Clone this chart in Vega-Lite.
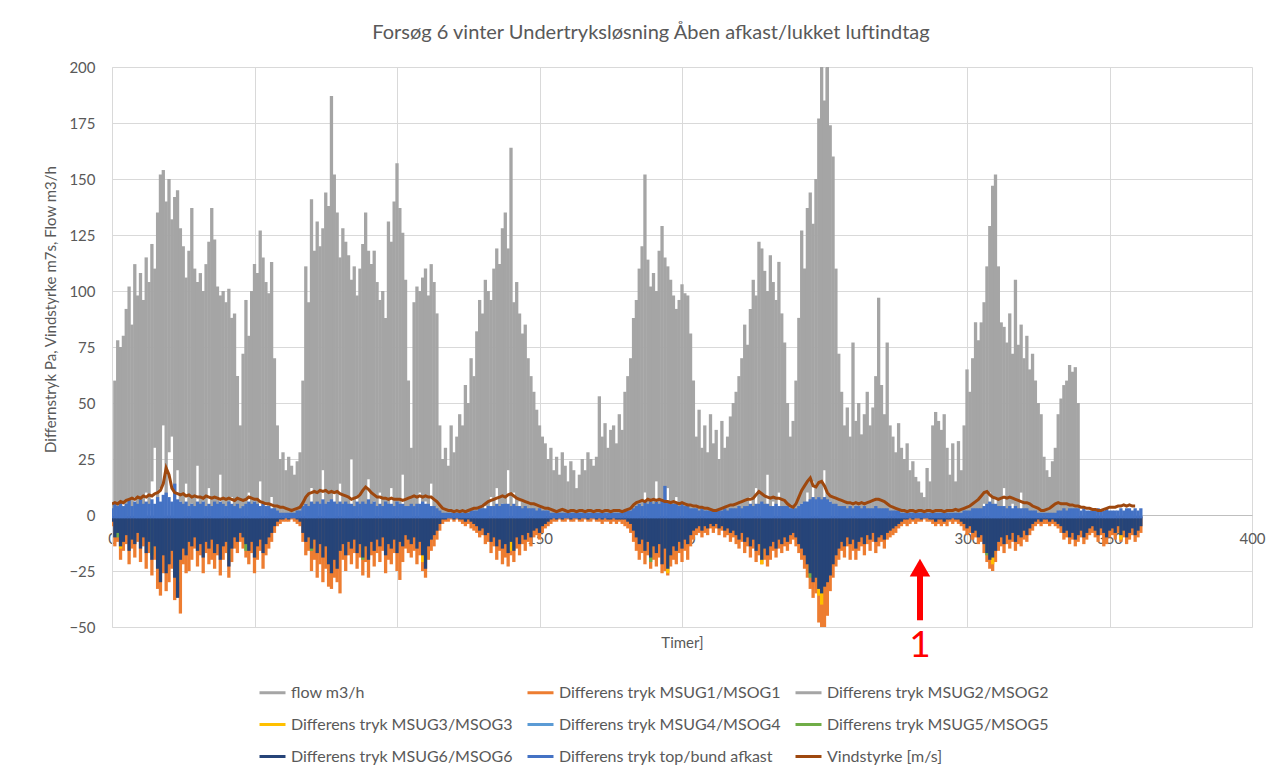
{
"$schema": "https://vega.github.io/schema/vega-lite/v6.json",
"width": 1140, "height": 560,
"autosize": {"type": "none"},
"padding": {"left": 112, "top": 67, "right": 24, "bottom": 151},
"background": "white",
"title": {"text": "Forsøg 6 vinter Undertryksløsning Åben afkast/lukket luftindtag", "font": "Lato", "fontSize": 20, "fontWeight": "normal", "color": "#595959", "anchor": "middle", "frame": "group", "dx": -31, "offset": 17},
"config": {"view": {"stroke": null}, "font": "Lato"},
"data": {"values": [
{"t":0,"lo":0,"hi":5,"o":-5,"n":-3,"b":3,"w":5},
{"t":1,"lo":0,"hi":60,"o":-14,"n":-10,"b":5,"w":5.5},
{"t":2,"lo":2,"hi":78,"o":-12,"n":-8,"b":4,"w":5,"g":-10},
{"t":3,"lo":0,"hi":75,"o":-20,"n":-14,"b":6,"w":6,"yl":-15},
{"t":4,"lo":5,"hi":80,"o":-16,"n":-12,"b":4,"w":5.5},
{"t":5,"lo":0,"hi":92,"o":-13,"n":-9,"b":5,"w":6.5},
{"t":6,"lo":3,"hi":102,"o":-22,"n":-16,"b":7,"w":7},
{"t":7,"lo":0,"hi":85,"o":-15,"n":-11,"b":4,"w":7.5},
{"t":8,"lo":8,"hi":112,"o":-19,"n":-13,"b":6,"w":7},
{"t":9,"lo":0,"hi":98,"o":-12,"n":-8,"b":5,"w":8},
{"t":10,"lo":4,"hi":108,"o":-21,"n":-15,"b":7,"w":7.5},
{"t":11,"lo":0,"hi":96,"o":-14,"n":-10,"b":5,"w":8.5},
{"t":12,"lo":10,"hi":115,"o":-24,"n":-17,"b":6,"w":8},
{"t":13,"lo":2,"hi":104,"o":-17,"n":-12,"b":5,"w":9},
{"t":14,"lo":15,"hi":121,"o":-27,"n":-20,"b":7,"w":8.5,"g":-18},
{"t":15,"lo":30,"hi":110,"o":-20,"n":-14,"b":5,"w":9.5},
{"t":16,"lo":5,"hi":135,"o":-33,"n":-24,"b":8,"w":10},
{"t":17,"lo":12,"hi":152,"o":-36,"n":-30,"b":6,"w":11},
{"t":18,"lo":40,"hi":154,"o":-26,"n":-18,"b":9,"w":14},
{"t":19,"lo":8,"hi":140,"o":-34,"n":-26,"b":10,"w":21},
{"t":20,"lo":28,"hi":150,"o":-30,"n":-22,"b":8,"w":18},
{"t":21,"lo":35,"hi":132,"o":-24,"n":-16,"b":6,"w":12},
{"t":22,"lo":10,"hi":142,"o":-38,"n":-28,"b":14,"w":10},
{"t":23,"lo":20,"hi":145,"o":-34,"n":-37,"b":7,"w":9.5,"yl":-30},
{"t":24,"lo":6,"hi":128,"o":-44,"n":-20,"b":6,"w":9},
{"t":25,"lo":0,"hi":120,"o":-22,"n":-15,"b":5,"w":9.5},
{"t":26,"lo":14,"hi":106,"o":-26,"n":-18,"b":6,"w":8.5},
{"t":27,"lo":0,"hi":118,"o":-25,"n":-12,"b":4,"w":9},
{"t":28,"lo":5,"hi":137,"o":-20,"n":-14,"b":5,"w":8},
{"t":29,"lo":0,"hi":110,"o":-15,"n":-10,"b":4,"w":8.5},
{"t":30,"lo":22,"hi":104,"o":-23,"n":-16,"b":6,"w":8},
{"t":31,"lo":0,"hi":108,"o":-18,"n":-13,"b":5,"w":8},
{"t":32,"lo":6,"hi":100,"o":-26,"n":-19,"b":6,"w":7.5},
{"t":33,"lo":0,"hi":112,"o":-17,"n":-12,"b":4,"w":8.5},
{"t":34,"lo":12,"hi":122,"o":-22,"n":-15,"b":5,"w":8},
{"t":35,"lo":0,"hi":137,"o":-20,"n":-11,"b":4,"w":7.5},
{"t":36,"lo":4,"hi":123,"o":-24,"n":-17,"b":6,"w":8},
{"t":37,"lo":0,"hi":102,"o":-18,"n":-13,"b":5,"w":7.5},
{"t":38,"lo":18,"hi":98,"o":-27,"n":-20,"b":6,"w":7},
{"t":39,"lo":0,"hi":100,"o":-20,"n":-14,"b":5,"w":7.5},
{"t":40,"lo":3,"hi":95,"o":-17,"n":-12,"b":4,"w":7},
{"t":41,"lo":0,"hi":101,"o":-28,"n":-23,"b":6,"w":7.5,"yl":-20},
{"t":42,"lo":8,"hi":88,"o":-21,"n":-15,"b":5,"w":7},
{"t":43,"lo":0,"hi":90,"o":-15,"n":-10,"b":4,"w":6.5},
{"t":44,"lo":0,"hi":62,"o":-17,"n":-12,"b":5,"w":7.5},
{"t":45,"lo":0,"hi":40,"o":-12,"n":-8,"b":3,"w":7},
{"t":46,"lo":4,"hi":72,"o":-15,"n":-10,"b":4,"w":6.5},
{"t":47,"lo":0,"hi":96,"o":-19,"n":-13,"b":5,"w":7,"g":-16},
{"t":48,"lo":10,"hi":80,"o":-22,"n":-16,"b":6,"w":8},
{"t":49,"lo":0,"hi":100,"o":-17,"n":-12,"b":5,"w":7.5},
{"t":50,"lo":6,"hi":112,"o":-26,"n":-19,"b":6,"w":7},
{"t":51,"lo":0,"hi":108,"o":-20,"n":-14,"b":5,"w":7},
{"t":52,"lo":15,"hi":127,"o":-16,"n":-11,"b":4,"w":6},
{"t":53,"lo":0,"hi":115,"o":-24,"n":-17,"b":5,"w":5.5},
{"t":54,"lo":5,"hi":104,"o":-18,"n":-13,"b":4,"w":5},
{"t":55,"lo":0,"hi":99,"o":-15,"n":-10,"b":4,"w":5},
{"t":56,"lo":8,"hi":113,"o":-12,"n":-8,"b":3,"w":4.5},
{"t":57,"lo":0,"hi":70,"o":-8,"n":-5,"b":3,"w":4},
{"t":58,"lo":0,"hi":40,"o":-5,"n":-3,"b":2,"w":4},
{"t":59,"lo":0,"hi":25,"o":-4,"n":-2,"b":1,"w":3.5},
{"t":60,"lo":0,"hi":28,"o":-3,"n":-2,"b":1,"w":3.5},
{"t":61,"lo":0,"hi":20,"o":-3,"n":-1,"b":1,"w":3},
{"t":62,"lo":0,"hi":26,"o":-3,"n":-2,"b":1,"w":2.5},
{"t":63,"lo":0,"hi":22,"o":-2,"n":-1,"b":1,"w":2},
{"t":64,"lo":0,"hi":18,"o":-3,"n":-1,"b":1,"w":2.5},
{"t":65,"lo":0,"hi":24,"o":-4,"n":-2,"b":2,"w":3},
{"t":66,"lo":0,"hi":28,"o":-5,"n":-3,"b":2,"w":3.5},
{"t":67,"lo":0,"hi":60,"o":-12,"n":-8,"b":4,"w":5.5},
{"t":68,"lo":5,"hi":111,"o":-18,"n":-12,"b":5,"w":8},
{"t":69,"lo":0,"hi":95,"o":-16,"n":-10,"b":4,"w":9.5},
{"t":70,"lo":12,"hi":141,"o":-25,"n":-15,"b":6,"w":10,"g":-16},
{"t":71,"lo":0,"hi":118,"o":-20,"n":-11,"b":5,"w":10.5},
{"t":72,"lo":4,"hi":131,"o":-28,"n":-17,"b":6,"w":10},
{"t":73,"lo":0,"hi":120,"o":-22,"n":-13,"b":5,"w":11},
{"t":74,"lo":20,"hi":128,"o":-30,"n":-19,"b":7,"w":10.5},
{"t":75,"lo":0,"hi":144,"o":-24,"n":-14,"b":5,"w":11},
{"t":76,"lo":6,"hi":138,"o":-32,"n":-22,"b":6,"w":10},
{"t":77,"lo":0,"hi":187,"o":-33,"n":-26,"b":7,"w":10.5},
{"t":78,"lo":10,"hi":152,"o":-28,"n":-20,"b":6,"w":10},
{"t":79,"lo":0,"hi":135,"o":-30,"n":-24,"b":5,"w":10.5},
{"t":80,"lo":14,"hi":115,"o":-35,"n":-16,"b":6,"w":9.5},
{"t":81,"lo":0,"hi":128,"o":-20,"n":-13,"b":5,"w":9},
{"t":82,"lo":5,"hi":122,"o":-25,"n":-18,"b":6,"w":8.5},
{"t":83,"lo":0,"hi":116,"o":-18,"n":-12,"b":5,"w":8},
{"t":84,"lo":25,"hi":105,"o":-22,"n":-15,"b":5,"w":7},
{"t":85,"lo":0,"hi":111,"o":-17,"n":-11,"b":4,"w":7.5},
{"t":86,"lo":8,"hi":98,"o":-24,"n":-17,"b":6,"w":8},
{"t":87,"lo":0,"hi":110,"o":-19,"n":-13,"b":5,"w":9},
{"t":88,"lo":3,"hi":121,"o":-27,"n":-19,"b":6,"w":11,"g":-20},
{"t":89,"lo":0,"hi":135,"o":-21,"n":-14,"b":5,"w":12.5},
{"t":90,"lo":16,"hi":118,"o":-28,"n":-20,"b":7,"w":11.5},
{"t":91,"lo":0,"hi":112,"o":-18,"n":-12,"b":5,"w":10},
{"t":92,"lo":6,"hi":118,"o":-23,"n":-16,"b":6,"w":9},
{"t":93,"lo":0,"hi":104,"o":-17,"n":-11,"b":4,"w":8},
{"t":94,"lo":10,"hi":96,"o":-21,"n":-14,"b":5,"w":8},
{"t":95,"lo":0,"hi":100,"o":-16,"n":-10,"b":4,"w":7.5},
{"t":96,"lo":4,"hi":88,"o":-26,"n":-18,"b":6,"w":7.5},
{"t":97,"lo":0,"hi":131,"o":-20,"n":-13,"b":5,"w":7},
{"t":98,"lo":12,"hi":122,"o":-22,"n":-15,"b":5,"w":7.5},
{"t":99,"lo":0,"hi":140,"o":-17,"n":-11,"b":4,"w":7},
{"t":100,"lo":5,"hi":157,"o":-25,"n":-17,"b":6,"w":7},
{"t":101,"lo":0,"hi":137,"o":-29,"n":-12,"b":5,"w":7},
{"t":102,"lo":18,"hi":126,"o":-21,"n":-14,"b":5,"w":6.5},
{"t":103,"lo":0,"hi":105,"o":-15,"n":-9,"b":4,"w":7},
{"t":104,"lo":0,"hi":60,"o":-17,"n":-11,"b":4,"w":7.5},
{"t":105,"lo":0,"hi":30,"o":-19,"n":-13,"b":5,"w":8},
{"t":106,"lo":4,"hi":95,"o":-16,"n":-10,"b":4,"w":8.5},
{"t":107,"lo":0,"hi":102,"o":-22,"n":-15,"b":5,"w":8},
{"t":108,"lo":10,"hi":100,"o":-18,"n":-12,"b":5,"w":8.5},
{"t":109,"lo":0,"hi":106,"o":-25,"n":-18,"b":6,"w":8,"yl":-21},
{"t":110,"lo":6,"hi":110,"o":-28,"n":-24,"b":5,"w":8.5},
{"t":111,"lo":0,"hi":98,"o":-20,"n":-14,"b":5,"w":8},
{"t":112,"lo":14,"hi":112,"o":-16,"n":-11,"b":4,"w":8},
{"t":113,"lo":0,"hi":104,"o":-14,"n":-9,"b":4,"w":7},
{"t":114,"lo":0,"hi":90,"o":-11,"n":-7,"b":3,"w":6},
{"t":115,"lo":0,"hi":40,"o":-7,"n":-4,"b":2,"w":4.5},
{"t":116,"lo":0,"hi":25,"o":-4,"n":-2,"b":1,"w":3},
{"t":117,"lo":0,"hi":30,"o":-3,"n":-2,"b":1,"w":2.5},
{"t":118,"lo":0,"hi":22,"o":-3,"n":-1,"b":1,"w":2},
{"t":119,"lo":0,"hi":40,"o":-2,"n":-1,"b":1,"w":2},
{"t":120,"lo":0,"hi":28,"o":-3,"n":-2,"b":1,"w":1.5},
{"t":121,"lo":0,"hi":35,"o":-2,"n":-1,"b":1,"w":2},
{"t":122,"lo":0,"hi":45,"o":-3,"n":-2,"b":1,"w":1.5},
{"t":123,"lo":0,"hi":40,"o":-4,"n":-2,"b":1,"w":2},
{"t":124,"lo":0,"hi":58,"o":-5,"n":-3,"b":2,"w":1.5},
{"t":125,"lo":0,"hi":50,"o":-4,"n":-2,"b":1,"w":2},
{"t":126,"lo":0,"hi":70,"o":-6,"n":-3,"b":2,"w":2.5},
{"t":127,"lo":0,"hi":62,"o":-7,"n":-4,"b":2,"w":3},
{"t":128,"lo":0,"hi":82,"o":-8,"n":-5,"b":2,"w":3},
{"t":129,"lo":0,"hi":96,"o":-10,"n":-7,"b":3,"w":3.5},
{"t":130,"lo":0,"hi":90,"o":-9,"n":-6,"b":3,"w":4},
{"t":131,"lo":4,"hi":105,"o":-13,"n":-9,"b":3,"w":5},
{"t":132,"lo":0,"hi":100,"o":-12,"n":-8,"b":4,"w":6},
{"t":133,"lo":8,"hi":96,"o":-17,"n":-12,"b":4,"w":6.5},
{"t":134,"lo":0,"hi":110,"o":-14,"n":-10,"b":4,"w":7},
{"t":135,"lo":12,"hi":119,"o":-20,"n":-14,"b":5,"w":7.5},
{"t":136,"lo":0,"hi":112,"o":-16,"n":-11,"b":4,"w":8},
{"t":137,"lo":5,"hi":128,"o":-22,"n":-15,"b":5,"w":8.5},
{"t":138,"lo":0,"hi":135,"o":-19,"n":-13,"b":5,"w":8},
{"t":139,"lo":20,"hi":119,"o":-23,"n":-17,"b":5,"w":9},
{"t":140,"lo":0,"hi":164,"o":-18,"n":-12,"b":4,"w":9.5,"yl":-16},
{"t":141,"lo":10,"hi":95,"o":-21,"n":-16,"b":5,"w":8.5},
{"t":142,"lo":0,"hi":104,"o":-15,"n":-10,"b":4,"w":7.5},
{"t":143,"lo":6,"hi":90,"o":-18,"n":-13,"b":4,"w":7},
{"t":144,"lo":0,"hi":81,"o":-13,"n":-9,"b":3,"w":6.5},
{"t":145,"lo":0,"hi":85,"o":-16,"n":-11,"b":4,"w":6},
{"t":146,"lo":0,"hi":70,"o":-12,"n":-8,"b":3,"w":5.5},
{"t":147,"lo":0,"hi":62,"o":-14,"n":-10,"b":3,"w":5},
{"t":148,"lo":0,"hi":55,"o":-10,"n":-7,"b":3,"w":5},
{"t":149,"lo":0,"hi":47,"o":-9,"n":-6,"b":2,"w":4.5},
{"t":150,"lo":0,"hi":40,"o":-11,"n":-8,"b":3,"w":4},
{"t":151,"lo":0,"hi":35,"o":-8,"n":-5,"b":2,"w":3.5},
{"t":152,"lo":0,"hi":32,"o":-6,"n":-4,"b":2,"w":3},
{"t":153,"lo":0,"hi":25,"o":-5,"n":-3,"b":2,"w":3},
{"t":154,"lo":0,"hi":30,"o":-4,"n":-2,"b":1,"w":2.5},
{"t":155,"lo":0,"hi":20,"o":-3,"n":-1,"b":1,"w":2},
{"t":156,"lo":0,"hi":26,"o":-3,"n":-2,"b":1,"w":1.5},
{"t":157,"lo":0,"hi":18,"o":-2,"n":-1,"b":1,"w":2},
{"t":158,"lo":0,"hi":28,"o":-3,"n":-2,"b":1,"w":2.5},
{"t":159,"lo":0,"hi":22,"o":-3,"n":-1,"b":1,"w":2},
{"t":160,"lo":0,"hi":15,"o":-2,"n":-1,"b":1,"w":1.5},
{"t":161,"lo":0,"hi":24,"o":-3,"n":-2,"b":1,"w":2},
{"t":162,"lo":0,"hi":20,"o":-3,"n":-1,"b":1,"w":2},
{"t":163,"lo":0,"hi":12,"o":-2,"n":-1,"b":1,"w":1.5},
{"t":164,"lo":0,"hi":18,"o":-3,"n":-2,"b":1,"w":2},
{"t":165,"lo":0,"hi":25,"o":-3,"n":-1,"b":1,"w":2},
{"t":166,"lo":0,"hi":20,"o":-2,"n":-1,"b":1,"w":1.5},
{"t":167,"lo":0,"hi":28,"o":-3,"n":-2,"b":1,"w":2},
{"t":168,"lo":0,"hi":25,"o":-3,"n":-1,"b":1,"w":2},
{"t":169,"lo":0,"hi":22,"o":-2,"n":-1,"b":1,"w":1.5},
{"t":170,"lo":0,"hi":26,"o":-3,"n":-2,"b":1,"w":2},
{"t":171,"lo":0,"hi":53,"o":-3,"n":-1,"b":1,"w":2},
{"t":172,"lo":0,"hi":35,"o":-4,"n":-2,"b":1,"w":1.5},
{"t":173,"lo":0,"hi":41,"o":-3,"n":-1,"b":1,"w":2},
{"t":174,"lo":0,"hi":30,"o":-3,"n":-2,"b":1,"w":2},
{"t":175,"lo":0,"hi":38,"o":-4,"n":-2,"b":1,"w":1.5},
{"t":176,"lo":0,"hi":40,"o":-3,"n":-1,"b":1,"w":2},
{"t":177,"lo":0,"hi":32,"o":-4,"n":-2,"b":1,"w":2},
{"t":178,"lo":0,"hi":45,"o":-3,"n":-2,"b":1,"w":2},
{"t":179,"lo":0,"hi":38,"o":-4,"n":-2,"b":1,"w":1.5},
{"t":180,"lo":0,"hi":55,"o":-5,"n":-2,"b":2,"w":2},
{"t":181,"lo":0,"hi":62,"o":-6,"n":-3,"b":2,"w":2.5},
{"t":182,"lo":0,"hi":70,"o":-8,"n":-4,"b":2,"w":3},
{"t":183,"lo":0,"hi":88,"o":-12,"n":-7,"b":3,"w":4.5},
{"t":184,"lo":0,"hi":96,"o":-16,"n":-10,"b":4,"w":5.5},
{"t":185,"lo":5,"hi":110,"o":-20,"n":-13,"b":5,"w":6},
{"t":186,"lo":0,"hi":120,"o":-17,"n":-11,"b":4,"w":6.5},
{"t":187,"lo":10,"hi":152,"o":-22,"n":-16,"b":6,"w":6},
{"t":188,"lo":0,"hi":114,"o":-18,"n":-12,"b":5,"w":7},
{"t":189,"lo":4,"hi":102,"o":-24,"n":-19,"b":6,"w":6.5,"g":-21},
{"t":190,"lo":0,"hi":108,"o":-20,"n":-14,"b":5,"w":7},
{"t":191,"lo":15,"hi":100,"o":-23,"n":-17,"b":6,"w":6.5},
{"t":192,"lo":0,"hi":118,"o":-19,"n":-13,"b":5,"w":7},
{"t":193,"lo":6,"hi":129,"o":-26,"n":-22,"b":7,"w":6.5},
{"t":194,"lo":0,"hi":115,"o":-25,"n":-15,"b":13,"w":6},
{"t":195,"lo":12,"hi":111,"o":-27,"n":-24,"b":6,"w":6,"yl":-26},
{"t":196,"lo":0,"hi":105,"o":-23,"n":-18,"b":5,"w":5.5},
{"t":197,"lo":0,"hi":98,"o":-20,"n":-14,"b":5,"w":6},
{"t":198,"lo":8,"hi":92,"o":-22,"n":-16,"b":5,"w":5.5},
{"t":199,"lo":0,"hi":96,"o":-17,"n":-12,"b":4,"w":5},
{"t":200,"lo":3,"hi":103,"o":-21,"n":-15,"b":5,"w":5.5},
{"t":201,"lo":0,"hi":99,"o":-16,"n":-11,"b":4,"w":5},
{"t":202,"lo":0,"hi":98,"o":-20,"n":-13,"b":4,"w":4.5},
{"t":203,"lo":0,"hi":81,"o":-14,"n":-9,"b":3,"w":4.5},
{"t":204,"lo":0,"hi":60,"o":-11,"n":-7,"b":3,"w":4},
{"t":205,"lo":0,"hi":35,"o":-9,"n":-6,"b":3,"w":4},
{"t":206,"lo":0,"hi":47,"o":-8,"n":-5,"b":2,"w":3.5},
{"t":207,"lo":0,"hi":30,"o":-10,"n":-7,"b":3,"w":3.5},
{"t":208,"lo":0,"hi":40,"o":-8,"n":-5,"b":2,"w":3},
{"t":209,"lo":0,"hi":28,"o":-9,"n":-6,"b":2,"w":3},
{"t":210,"lo":0,"hi":45,"o":-6,"n":-4,"b":2,"w":2.5},
{"t":211,"lo":0,"hi":32,"o":-8,"n":-5,"b":2,"w":2},
{"t":212,"lo":0,"hi":38,"o":-6,"n":-4,"b":2,"w":2},
{"t":213,"lo":0,"hi":25,"o":-9,"n":-6,"b":2,"w":2.5},
{"t":214,"lo":0,"hi":42,"o":-7,"n":-5,"b":2,"w":3},
{"t":215,"lo":0,"hi":30,"o":-10,"n":-7,"b":3,"w":3.5},
{"t":216,"lo":0,"hi":35,"o":-9,"n":-6,"b":2,"w":4},
{"t":217,"lo":0,"hi":44,"o":-12,"n":-8,"b":3,"w":4.5},
{"t":218,"lo":0,"hi":50,"o":-10,"n":-7,"b":3,"w":4.5},
{"t":219,"lo":0,"hi":55,"o":-13,"n":-9,"b":3,"w":5},
{"t":220,"lo":0,"hi":62,"o":-15,"n":-11,"b":4,"w":5.5},
{"t":221,"lo":0,"hi":70,"o":-12,"n":-8,"b":3,"w":6},
{"t":222,"lo":4,"hi":85,"o":-17,"n":-12,"b":4,"w":6.5},
{"t":223,"lo":0,"hi":76,"o":-14,"n":-10,"b":4,"w":7},
{"t":224,"lo":8,"hi":92,"o":-19,"n":-14,"b":5,"w":7},
{"t":225,"lo":0,"hi":105,"o":-15,"n":-11,"b":4,"w":7.5},
{"t":226,"lo":12,"hi":98,"o":-21,"n":-16,"b":5,"w":9},
{"t":227,"lo":0,"hi":122,"o":-18,"n":-13,"b":5,"w":10.5},
{"t":228,"lo":5,"hi":119,"o":-22,"n":-20,"b":6,"w":9.5,"yl":-22},
{"t":229,"lo":0,"hi":109,"o":-20,"n":-15,"b":5,"w":8.5},
{"t":230,"lo":18,"hi":100,"o":-23,"n":-18,"b":5,"w":8},
{"t":231,"lo":0,"hi":116,"o":-20,"n":-14,"b":4,"w":7.5},
{"t":232,"lo":6,"hi":104,"o":-16,"n":-12,"b":4,"w":8},
{"t":233,"lo":0,"hi":96,"o":-19,"n":-15,"b":5,"w":7.5},
{"t":234,"lo":10,"hi":113,"o":-15,"n":-11,"b":4,"w":7.5},
{"t":235,"lo":0,"hi":90,"o":-17,"n":-13,"b":4,"w":7},
{"t":236,"lo":0,"hi":77,"o":-14,"n":-10,"b":4,"w":6.5},
{"t":237,"lo":0,"hi":50,"o":-16,"n":-12,"b":4,"w":5},
{"t":238,"lo":0,"hi":35,"o":-13,"n":-9,"b":3,"w":4},
{"t":239,"lo":0,"hi":42,"o":-11,"n":-8,"b":3,"w":3.5},
{"t":240,"lo":0,"hi":60,"o":-14,"n":-10,"b":3,"w":5},
{"t":241,"lo":0,"hi":88,"o":-17,"n":-13,"b":4,"w":8},
{"t":242,"lo":5,"hi":127,"o":-20,"n":-15,"b":5,"w":11},
{"t":243,"lo":0,"hi":110,"o":-24,"n":-18,"b":6,"w":13},
{"t":244,"lo":10,"hi":137,"o":-28,"n":-22,"b":6,"w":15},
{"t":245,"lo":0,"hi":144,"o":-33,"n":-26,"b":7,"w":16.5,"g":-28},
{"t":246,"lo":15,"hi":130,"o":-37,"n":-30,"b":8,"w":13},
{"t":247,"lo":0,"hi":150,"o":-35,"n":-28,"b":7,"w":12.5},
{"t":248,"lo":8,"hi":177,"o":-48,"n":-33,"b":8,"w":14.5,"yl":-36},
{"t":249,"lo":0,"hi":215,"o":-55,"n":-35,"b":7,"w":15,"yl":-40},
{"t":250,"lo":20,"hi":185,"o":-52,"n":-32,"b":8,"w":13},
{"t":251,"lo":0,"hi":230,"o":-45,"n":-30,"b":7,"w":10},
{"t":252,"lo":6,"hi":174,"o":-34,"n":-27,"b":6,"w":8.5},
{"t":253,"lo":0,"hi":160,"o":-28,"n":-22,"b":5,"w":8},
{"t":254,"lo":0,"hi":110,"o":-23,"n":-18,"b":5,"w":7.5},
{"t":255,"lo":0,"hi":72,"o":-20,"n":-15,"b":4,"w":7},
{"t":256,"lo":0,"hi":55,"o":-16,"n":-12,"b":4,"w":6.5},
{"t":257,"lo":0,"hi":40,"o":-19,"n":-14,"b":4,"w":6},
{"t":258,"lo":0,"hi":48,"o":-14,"n":-10,"b":3,"w":5.5},
{"t":259,"lo":0,"hi":35,"o":-20,"n":-13,"b":4,"w":5.5},
{"t":260,"lo":0,"hi":77,"o":-16,"n":-11,"b":3,"w":5},
{"t":261,"lo":0,"hi":42,"o":-20,"n":-15,"b":4,"w":5.5},
{"t":262,"lo":0,"hi":50,"o":-16,"n":-12,"b":4,"w":5},
{"t":263,"lo":0,"hi":36,"o":-14,"n":-10,"b":3,"w":5.5},
{"t":264,"lo":0,"hi":45,"o":-18,"n":-13,"b":4,"w":5},
{"t":265,"lo":0,"hi":55,"o":-13,"n":-9,"b":3,"w":5.5},
{"t":266,"lo":0,"hi":40,"o":-16,"n":-11,"b":3,"w":6},
{"t":267,"lo":0,"hi":48,"o":-12,"n":-8,"b":3,"w":6.5},
{"t":268,"lo":0,"hi":62,"o":-17,"n":-12,"b":4,"w":7},
{"t":269,"lo":0,"hi":97,"o":-14,"n":-10,"b":3,"w":7},
{"t":270,"lo":0,"hi":58,"o":-12,"n":-9,"b":3,"w":6.5},
{"t":271,"lo":0,"hi":45,"o":-15,"n":-11,"b":3,"w":6},
{"t":272,"lo":0,"hi":77,"o":-11,"n":-8,"b":3,"w":5},
{"t":273,"lo":0,"hi":40,"o":-10,"n":-7,"b":2,"w":4},
{"t":274,"lo":0,"hi":35,"o":-9,"n":-6,"b":2,"w":3.5},
{"t":275,"lo":0,"hi":28,"o":-8,"n":-5,"b":2,"w":3},
{"t":276,"lo":0,"hi":41,"o":-6,"n":-4,"b":2,"w":2.5},
{"t":277,"lo":0,"hi":30,"o":-5,"n":-3,"b":1,"w":2},
{"t":278,"lo":0,"hi":25,"o":-4,"n":-2,"b":1,"w":2},
{"t":279,"lo":0,"hi":32,"o":-5,"n":-2,"b":1,"w":1.5},
{"t":280,"lo":0,"hi":20,"o":-4,"n":-1,"b":1,"w":2},
{"t":281,"lo":0,"hi":24,"o":-3,"n":-2,"b":1,"w":2},
{"t":282,"lo":0,"hi":17,"o":-4,"n":-1,"b":1,"w":1.5},
{"t":283,"lo":0,"hi":15,"o":-3,"n":-1,"b":1,"w":2},
{"t":284,"lo":0,"hi":10,"o":-3,"n":-2,"b":1,"w":2},
{"t":285,"lo":0,"hi":8,"o":-2,"n":-1,"b":1,"w":1.5},
{"t":286,"lo":0,"hi":21,"o":-3,"n":-1,"b":1,"w":2},
{"t":287,"lo":0,"hi":15,"o":-3,"n":-2,"b":1,"w":2},
{"t":288,"lo":0,"hi":40,"o":-4,"n":-2,"b":1,"w":1.5},
{"t":289,"lo":0,"hi":46,"o":-5,"n":-3,"b":1,"w":2},
{"t":290,"lo":0,"hi":42,"o":-4,"n":-2,"b":1,"w":2},
{"t":291,"lo":0,"hi":38,"o":-5,"n":-2,"b":1,"w":2},
{"t":292,"lo":0,"hi":45,"o":-4,"n":-3,"b":1,"w":1.5},
{"t":293,"lo":0,"hi":30,"o":-5,"n":-2,"b":1,"w":2},
{"t":294,"lo":0,"hi":18,"o":-3,"n":-2,"b":1,"w":2},
{"t":295,"lo":0,"hi":32,"o":-4,"n":-1,"b":1,"w":2},
{"t":296,"lo":0,"hi":15,"o":-3,"n":-2,"b":1,"w":2.5},
{"t":297,"lo":0,"hi":33,"o":-4,"n":-2,"b":1,"w":2},
{"t":298,"lo":0,"hi":20,"o":-5,"n":-3,"b":1,"w":2.5},
{"t":299,"lo":0,"hi":40,"o":-7,"n":-4,"b":2,"w":3},
{"t":300,"lo":0,"hi":65,"o":-9,"n":-6,"b":2,"w":3.5},
{"t":301,"lo":0,"hi":55,"o":-8,"n":-5,"b":2,"w":4},
{"t":302,"lo":0,"hi":70,"o":-11,"n":-8,"b":3,"w":5},
{"t":303,"lo":0,"hi":86,"o":-10,"n":-7,"b":3,"w":6},
{"t":304,"lo":0,"hi":78,"o":-13,"n":-10,"b":3,"w":7},
{"t":305,"lo":0,"hi":86,"o":-12,"n":-9,"b":3,"w":8.5},
{"t":306,"lo":5,"hi":95,"o":-17,"n":-13,"b":4,"w":10},
{"t":307,"lo":0,"hi":111,"o":-21,"n":-17,"b":5,"w":10.5,"g":-18},
{"t":308,"lo":10,"hi":129,"o":-24,"n":-20,"b":6,"w":9},
{"t":309,"lo":0,"hi":147,"o":-25,"n":-19,"b":5,"w":8,"yl":-22},
{"t":310,"lo":8,"hi":152,"o":-21,"n":-16,"b":5,"w":7.5},
{"t":311,"lo":0,"hi":111,"o":-16,"n":-12,"b":4,"w":7},
{"t":312,"lo":0,"hi":86,"o":-14,"n":-10,"b":4,"w":7.5},
{"t":313,"lo":12,"hi":84,"o":-17,"n":-13,"b":4,"w":8},
{"t":314,"lo":0,"hi":77,"o":-13,"n":-9,"b":3,"w":7.5},
{"t":315,"lo":0,"hi":90,"o":-15,"n":-11,"b":4,"w":8},
{"t":316,"lo":5,"hi":72,"o":-12,"n":-8,"b":3,"w":7.5},
{"t":317,"lo":0,"hi":105,"o":-16,"n":-12,"b":4,"w":7},
{"t":318,"lo":0,"hi":76,"o":-13,"n":-9,"b":3,"w":6.5},
{"t":319,"lo":10,"hi":85,"o":-14,"n":-10,"b":3,"w":6},
{"t":320,"lo":0,"hi":70,"o":-11,"n":-7,"b":3,"w":5.5},
{"t":321,"lo":0,"hi":80,"o":-12,"n":-9,"b":3,"w":5.5},
{"t":322,"lo":0,"hi":65,"o":-9,"n":-6,"b":2,"w":5},
{"t":323,"lo":0,"hi":72,"o":-7,"n":-4,"b":2,"w":4},
{"t":324,"lo":0,"hi":60,"o":-5,"n":-3,"b":2,"w":3.5},
{"t":325,"lo":0,"hi":50,"o":-4,"n":-2,"b":1,"w":3},
{"t":326,"lo":0,"hi":45,"o":-5,"n":-3,"b":1,"w":2},
{"t":327,"lo":0,"hi":26,"o":-4,"n":-2,"b":1,"w":2},
{"t":328,"lo":0,"hi":20,"o":-4,"n":-2,"b":1,"w":2.5},
{"t":329,"lo":0,"hi":17,"o":-5,"n":-3,"b":1,"w":3},
{"t":330,"lo":0,"hi":24,"o":-4,"n":-2,"b":1,"w":4},
{"t":331,"lo":0,"hi":30,"o":-5,"n":-3,"b":1,"w":5},
{"t":332,"lo":0,"hi":45,"o":-6,"n":-4,"b":2,"w":5.5},
{"t":333,"lo":0,"hi":52,"o":-8,"n":-5,"b":2,"w":5},
{"t":334,"lo":0,"hi":58,"o":-11,"n":-8,"b":3,"w":5},
{"t":335,"lo":0,"hi":60,"o":-10,"n":-7,"b":2,"w":5},
{"t":336,"lo":0,"hi":67,"o":-13,"n":-10,"b":3,"w":4.5},
{"t":337,"lo":0,"hi":64,"o":-11,"n":-8,"b":3,"w":4.5},
{"t":338,"lo":0,"hi":66,"o":-14,"n":-11,"b":3,"w":4},
{"t":339,"lo":0,"hi":50,"o":-12,"n":-9,"b":3,"w":4},
{"t":340,"o":-10,"n":-7,"b":2,"w":3.5},
{"t":341,"o":-13,"n":-10,"b":3,"w":3.5},
{"t":342,"o":-11,"n":-8,"b":2,"w":3},
{"t":343,"o":-9,"n":-6,"b":2,"w":3},
{"t":344,"o":-8,"n":-5,"b":2,"w":2.5},
{"t":345,"o":-10,"n":-7,"b":2,"w":2.5},
{"t":346,"o":-12,"n":-9,"b":3,"w":2},
{"t":347,"o":-9,"n":-6,"b":2,"w":2},
{"t":348,"o":-14,"n":-8,"b":2,"w":2.5},
{"t":349,"o":-13,"n":-10,"b":3,"w":3},
{"t":350,"o":-10,"n":-7,"b":2,"w":3.5},
{"t":351,"o":-9,"n":-6,"b":2,"w":3.5},
{"t":352,"o":-11,"n":-8,"b":2,"w":3.5},
{"t":353,"o":-8,"n":-5,"b":2,"w":4},
{"t":354,"o":-12,"n":-9,"b":3,"w":4,"yl":-11},
{"t":355,"o":-10,"n":-7,"b":2,"w":4.5},
{"t":356,"o":-13,"n":-10,"b":3,"w":4},
{"t":357,"o":-11,"n":-8,"b":3,"w":4.5},
{"t":358,"o":-9,"n":-6,"b":2,"w":4},
{"t":359,"o":-12,"n":-9,"b":3,"w":4},
{"t":360,"o":-10,"n":-7,"b":2},
{"t":361,"o":-8,"n":-5,"b":3}
]},
"encoding": {
  "x": {"field": "t", "type": "quantitative", "scale": {"domain": [0, 400], "nice": false},
    "axis": {"values": [0,50,100,150,200,250,300,350,400], "grid": true, "gridColor": "#d9d9d9", "domainColor": "#bfbfbf", "ticks": false, "offset": -112, "labelPadding": 16, "labelFont": "Lato", "labelFontSize": 15, "labelColor": "#595959", "labelFlush": false, "title": "Timer]", "titleFont": "Lato", "titleFontSize": 15, "titleFontWeight": "normal", "titleColor": "#595959", "titleY": 127, "titleBaseline": "middle"}}
},
"layer": [
  {"transform": [{"filter": "isValid(datum.hi)"}],
   "mark": {"type": "rule", "strokeWidth": 3.3, "clip": true},
   "encoding": {
     "y": {"field": "hi", "type": "quantitative", "scale": {"domain": [-50, 200], "nice": false},
       "axis": {"values": [-50,-25,0,25,50,75,100,125,150,175,200], "grid": true, "gridColor": "#d9d9d9", "domainColor": "#d9d9d9", "ticks": false, "labelPadding": 17, "labelFont": "Lato", "labelFontSize": 15, "labelColor": "#595959", "title": "Differnstryk Pa, Vindstyrke m7s, Flow m3/h", "titleFont": "Lato", "titleFontSize": 15, "titleFontWeight": "normal", "titleColor": "#595959", "titleX": -62, "titleY": 242, "titleAngle": -90, "titleAlign": "center", "titleBaseline": "middle"}},
     "y2": {"field": "lo"},
     "color": {"datum": "flow m3/h",
       "scale": {"domain": ["flow m3/h", "Differens tryk MSUG1/MSOG1", "Differens tryk MSUG2/MSOG2", "Differens tryk MSUG3/MSOG3", "Differens tryk MSUG4/MSOG4", "Differens tryk MSUG5/MSOG5", "Differens tryk MSUG6/MSOG6", "Differens tryk top/bund afkast", "Vindstyrke [m/s]"],
                 "range": ["#a5a5a5", "#ed7d31", "#a5a5a5", "#ffc000", "#5b9bd5", "#70ad47", "#264478", "#4472c4", "#9e480e"]},
       "legend": {"orient": "none", "legendX": 146, "legendY": 611, "columns": 3, "direction": "horizontal", "title": null, "symbolType": "stroke", "symbolSize": 676, "symbolStrokeWidth": 3, "labelFont": "Lato", "labelFontSize": 16, "labelColor": "#595959", "labelOffset": 4, "labelLimit": 400, "rowPadding": 9, "columnPadding": 8, "gridAlign": "all"}}
   }},
  {"mark": {"type": "rule", "strokeWidth": 3.3, "clip": true},
   "encoding": {"y": {"field": "o", "type": "quantitative"}, "y2": {"datum": -1}, "color": {"datum": "Differens tryk MSUG1/MSOG1"}}},
  {"transform": [{"filter": "isValid(datum.yl)"}],
   "mark": {"type": "rule", "strokeWidth": 3.3, "clip": true},
   "encoding": {"y": {"field": "yl", "type": "quantitative"}, "y2": {"datum": -1}, "color": {"datum": "Differens tryk MSUG3/MSOG3"}}},
  {"transform": [{"filter": "isValid(datum.g)"}],
   "mark": {"type": "rule", "strokeWidth": 3.3, "clip": true},
   "encoding": {"y": {"field": "g", "type": "quantitative"}, "y2": {"datum": -1}, "color": {"datum": "Differens tryk MSUG5/MSOG5"}}},
  {"mark": {"type": "rule", "strokeWidth": 3.3, "clip": true},
   "encoding": {"y": {"field": "n", "type": "quantitative"}, "y2": {"datum": -0.5}, "color": {"datum": "Differens tryk MSUG6/MSOG6"}}},
  {"mark": {"type": "rule", "strokeWidth": 3.3, "clip": true},
   "encoding": {"y": {"field": "b", "type": "quantitative"}, "y2": {"datum": -1.5}, "color": {"datum": "Differens tryk top/bund afkast"}}},
  {"transform": [{"filter": "isValid(datum.w)"}],
   "mark": {"type": "line", "strokeWidth": 3, "clip": true},
   "encoding": {"y": {"field": "w", "type": "quantitative"}, "color": {"datum": "Vindstyrke [m/s]"}}},
  {"data": {"values": [{"t": 283.5, "label": "1"}]},
   "mark": {"type": "rule", "strokeWidth": 6, "color": "#ff0000"},
   "encoding": {"y": {"datum": -47}, "y2": {"datum": -27}}},
  {"data": {"values": [{"t": 283.5, "label": "1"}]},
   "mark": {"type": "point", "shape": "triangle-up", "filled": true, "size": 420, "color": "#ff0000", "opacity": 1},
   "encoding": {"y": {"datum": -23.5}}},
  {"data": {"values": [{"t": 283.5, "label": "1"}]},
   "mark": {"type": "text", "fontSize": 37, "font": "Lato", "color": "#ff0000", "baseline": "middle"},
   "encoding": {"y": {"datum": -58.5}, "text": {"field": "label"}}}
]
}
